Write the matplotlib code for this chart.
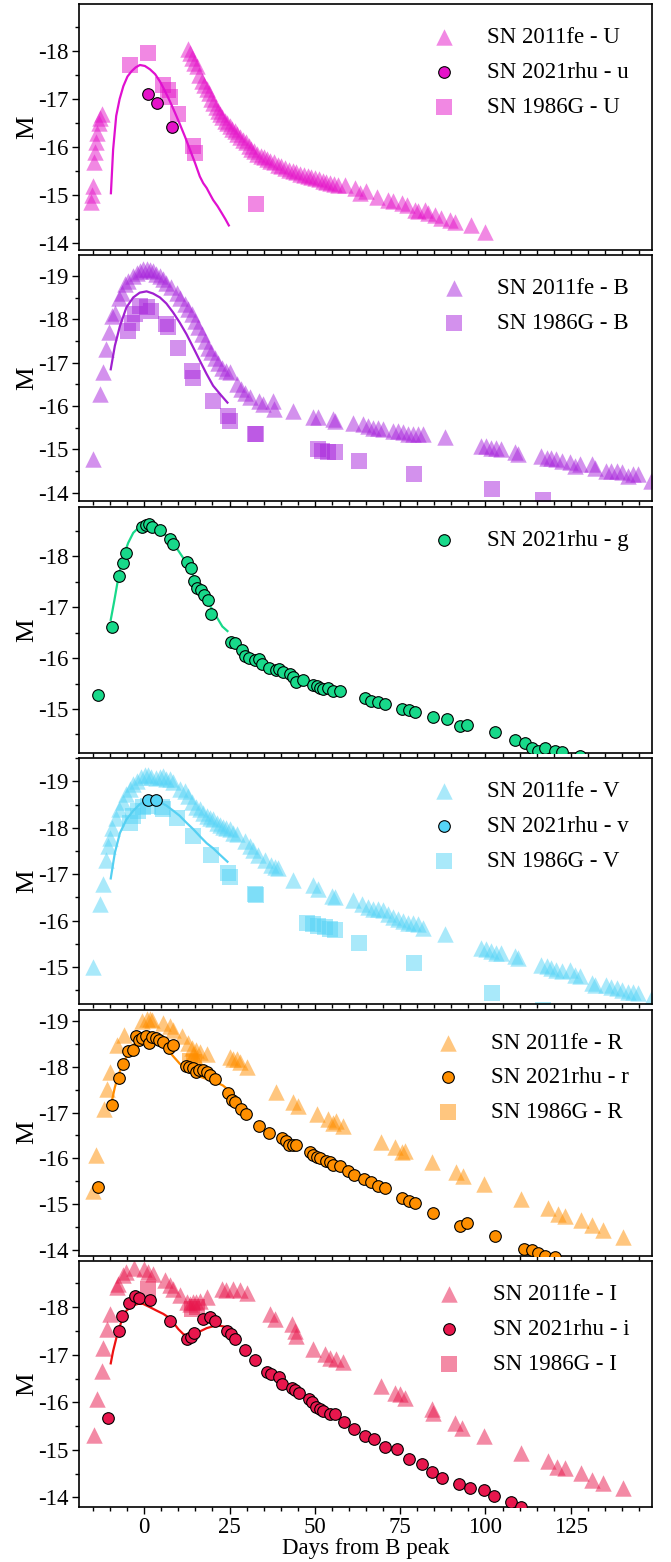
import matplotlib
matplotlib.use("Agg")
import matplotlib.pyplot as plt
from matplotlib.ticker import MultipleLocator

plt.rcParams["font.family"] = ["Liberation Serif", "DejaVu Serif"]
plt.rcParams["axes.unicode_minus"] = False
plt.rcParams["font.size"] = 16.5

# ---------------- U band ----------------
u_fe_days = [-15.5, -15.2, -14.9, -14.6, -14.3, -14.0, -13.7, -13.3, -12.9, -12.5,
             12.8, 13.3, 13.9, 14.6, 15.4, 16.2, 16.9, 17.6, 18.3, 18.9, 19.6, 20.3,
             21.0, 21.6, 22.2, 22.9, 23.6, 24.3, 25.0, 25.8, 26.5, 27.3, 28.1, 28.9,
             29.7, 30.6, 31.4, 32.3, 33.2, 34.1, 35.0, 36.0, 37.0, 38.0, 39.1, 40.2,
             41.3, 42.4, 43.5, 44.6, 45.7, 46.8, 47.9, 49.0, 50.1, 51.2, 52.3, 53.4,
             54.5, 55.6, 56.7, 58.8, 61.7, 63.2, 65.1, 68.1, 71.5, 72.9, 75.4, 76.9,
             79.3, 80.3, 82.2, 83.2, 85.2, 87.1, 89.6, 91.0, 95.9, 99.8]
u_fe_mag = [-14.85, -15.0, -15.2, -15.7, -15.9, -16.1, -16.3, -16.5, -16.6, -16.7,
            -18.04, -17.95, -17.86, -17.75, -17.68, -17.5, -17.38, -17.3, -17.22, -17.12,
            -17.0, -16.92, -16.83, -16.76, -16.7, -16.63, -16.55, -16.5, -16.44, -16.38,
            -16.33, -16.27, -16.22, -16.15, -16.1, -16.02, -15.97, -15.92, -15.86, -15.82,
            -15.79, -15.75, -15.72, -15.68, -15.63, -15.6, -15.57, -15.53, -15.5, -15.48,
            -15.45, -15.42, -15.4, -15.37, -15.35, -15.33, -15.3, -15.28, -15.25, -15.23,
            -15.22, -15.22, -15.15, -15.05, -15.08, -14.97, -14.9, -14.87, -14.83, -14.8,
            -14.69, -14.66, -14.69, -14.62, -14.59, -14.52, -14.49, -14.45, -14.38, -14.24]
u_rhu_days = [1.0, 3.8, 8.1]
u_rhu_mag = [-17.11, -16.91, -16.41]
u_86_days = [-4.2, 1.0, 5.6, 7.0, 7.6, 10.0, 14.2, 14.8, 32.9]
u_86_mag = [-17.72, -17.97, -17.3, -17.18, -17.05, -16.68, -16.02, -15.87, -14.82]
u_fit_days = [-9.75, -9.1, -8.2, -7.2, -6.1, -4.9, -3.7, -2.5, -1.25, 0.2, 1.7, 3.2,
              4.6, 6.0, 7.5, 9.0, 10.5, 12.0, 13.4, 14.9, 16.3, 17.3, 18.3, 19.2,
              20.2, 21.5, 22.7, 23.8, 24.8]
u_fit_mag = [-15.04, -15.95, -16.65, -17.0, -17.27, -17.47, -17.58, -17.66, -17.71, -17.69,
             -17.62, -17.52, -17.37, -17.18, -16.96, -16.72, -16.47, -16.21, -15.95, -15.67,
             -15.39, -15.25, -15.15, -15.03, -14.9, -14.77, -14.63, -14.5, -14.37]

# ---------------- B band ----------------
b_fe_days = [-14.9, -13.0, -12.0, -11.2, -10.3, -9.3, -8.6, -7.3, -6.6, -5.7, -4.7, -3.2,
             -2.2, -1.3, -0.3, 0.7, 1.7, 2.6, 3.6, 4.6, 5.6, 6.5, 8.0, 9.5, 10.4, 11.9,
             12.9, 13.9, 14.8, 15.8, 16.8, 17.8, 18.8, 19.7, 20.7, 21.7, 22.7, 24.1, 25.1,
             27.1, 28.5, 29.5, 31.0, 33.5, 34.9, 37.8, 37.9, 43.7, 49.5, 51.0, 55.4,
             55.9, 61.2, 64.2, 65.6, 67.1, 68.5, 70.0, 72.9, 74.4, 75.9, 77.3, 78.8,
             80.3, 81.7, 88.1, 98.8, 100.3, 101.7, 103.2, 104.7, 108.6, 109.5, 116.4,
             117.9, 119.3, 120.8, 122.3, 124.7, 126.2, 127.6, 131.1, 132.0, 135.4, 136.9,
             138.4, 139.9, 141.8, 143.3, 144.7, 148.6]
b_fe_mag = [-14.78, -16.28, -16.78, -17.32, -17.7, -18.08, -18.16, -18.5, -18.62, -18.82,
            -18.89, -19.0, -19.08, -19.12, -19.16, -19.16, -19.14, -19.12, -19.06, -19.0,
            -18.93, -18.85, -18.74, -18.62, -18.5, -18.35, -18.24, -18.12, -17.97, -17.82,
            -17.66, -17.51, -17.35, -17.24, -17.12, -17.0, -16.89, -16.82, -16.78, -16.51,
            -16.39, -16.31, -16.2, -16.12, -16.05, -16.12, -15.93, -15.89, -15.74, -15.74,
            -15.7, -15.66, -15.62, -15.58, -15.54, -15.5, -15.5, -15.47, -15.43, -15.43,
            -15.39, -15.35, -15.35, -15.35, -15.35, -15.28, -15.08, -15.08, -15.04, -15.04,
            -15.0, -14.93, -14.89, -14.85, -14.81, -14.81, -14.78, -14.74, -14.7, -14.62,
            -14.66, -14.66, -14.58, -14.51, -14.51, -14.51, -14.47, -14.39, -14.43, -14.43,
            -14.28]
b_86_days = [-4.7, -3.7, -2.7, -1.3, 0.7, 2.1, 6.5, 7.0, 10.0, 13.9, 14.4, 20.2, 24.6,
             25.1, 32.4, 32.9, 51.0, 52.0, 53.9, 55.9, 62.9, 79.0, 102.0, 116.9]
b_86_mag = [-17.74, -17.93, -18.12, -18.32, -18.28, -18.2, -17.89, -17.82, -17.35, -16.82,
            -16.66, -16.12, -15.78, -15.66, -15.35, -15.35, -15.0, -14.97, -14.93, -14.93,
            -14.74, -14.43, -14.08, -13.82]
b_fit_days = [-9.8, -8.6, -7.1, -5.2, -3.2, -1.3, 0.7, 2.6, 4.6, 6.5, 8.5, 10.4, 12.4,
              14.4, 16.3, 18.3, 20.2, 22.2, 24.4]
b_fit_mag = [-16.85, -17.39, -17.85, -18.28, -18.51, -18.62, -18.65, -18.6, -18.51,
             -18.37, -18.16, -17.93, -17.66, -17.35, -17.05, -16.74, -16.47, -16.28, -16.08]

# ---------------- g band ----------------
g_rhu_days = [-13.4, -9.4, -7.3, -6.3, -5.4, -0.5, 0.4, 1.4, 2.4, 4.7, 7.5, 8.5, 12.6,
              13.6, 14.6, 15.5, 16.6, 17.5, 18.6, 19.5, 25.5, 26.7, 28.6, 29.5, 30.6,
              32.6, 33.6, 34.6, 36.6, 38.6, 39.6, 40.6, 42.7, 43.7, 44.6, 46.6, 49.5,
              50.5, 51.5, 52.4, 53.9, 55.4, 57.3, 64.7, 66.6, 68.5, 70.5, 75.4, 77.5,
              79.5, 84.5, 88.6, 92.5, 94.6, 102.7, 108.6, 111.5, 113.5, 115.4, 117.4,
              120.3, 122.5, 127.6]
g_rhu_mag = [-15.28, -16.61, -17.62, -17.86, -18.07, -18.57, -18.61, -18.63, -18.58,
             -18.51, -18.34, -18.24, -17.88, -17.77, -17.51, -17.37, -17.34, -17.24,
             -17.14, -16.87, -16.32, -16.29, -16.15, -16.05, -16.0, -15.96, -15.98,
             -15.89, -15.81, -15.76, -15.79, -15.73, -15.69, -15.63, -15.53, -15.56,
             -15.48, -15.45, -15.41, -15.4, -15.41, -15.36, -15.35, -15.21, -15.16,
             -15.13, -15.1, -15.0, -14.97, -14.95, -14.85, -14.8, -14.67, -14.69, -14.55,
             -14.39, -14.34, -14.24, -14.18, -14.24, -14.18, -14.16, -14.08]
g_fit_days = [-9.8, -8.8, -7.6, -6.2, -4.7, -3.2, -1.8, -0.3, 1.7, 3.6, 5.6, 7.5, 9.5,
              11.4, 13.4, 15.3, 17.3, 19.2, 21.2, 22.9, 24.4]
g_fit_mag = [-16.75, -17.11, -17.57, -17.97, -18.26, -18.46, -18.55, -18.59, -18.59,
             -18.55, -18.46, -18.33, -18.16, -17.97, -17.74, -17.51, -17.27, -17.04,
             -16.81, -16.62, -16.53]

# ---------------- V band ----------------
v_fe_days = [-14.9, -13.0, -12.2, -11.2, -10.5, -10.1, -9.3, -8.3, -7.3, -6.3, -5.4, -4.2,
             -3.2, -2.2, -0.8, 0.2, 1.2, 2.1, 3.6, 4.6, 5.6, 6.5, 7.5, 8.5, 10.4, 11.9,
             12.9, 13.9, 15.3, 16.3, 17.3, 18.3, 19.2, 20.2, 21.2, 22.2, 23.1, 24.1, 25.1,
             26.1, 27.1, 29.5, 31.0, 31.9, 33.4, 35.3, 37.3, 38.3, 39.3, 43.7, 49.5, 51.0,
             54.9, 55.9, 61.2, 63.7, 65.6, 67.1, 68.5, 70.0, 71.5, 72.9, 74.4, 75.9, 77.3,
             78.8, 80.3, 81.7, 88.1, 98.8, 100.3, 101.7, 103.2, 104.7, 108.6, 109.5,
             116.4, 117.9, 119.3, 120.8, 122.3, 124.7, 126.2, 127.6, 131.1, 132.0, 135.4,
             136.9, 138.4, 139.9, 141.8, 143.3, 144.7, 148.6]
v_fe_mag = [-15.01, -16.36, -16.8, -17.31, -17.6, -17.78, -18.0, -18.22, -18.4, -18.55,
            -18.73, -18.84, -18.95, -19.02, -19.09, -19.13, -19.13, -19.09, -19.07, -19.09,
            -19.12, -19.06, -19.06, -18.99, -18.84, -18.8, -18.69, -18.55, -18.44, -18.4,
            -18.33, -18.26, -18.22, -18.18, -18.11, -18.07, -18.02, -18.0, -17.97, -17.89,
            -17.86, -17.71, -17.6, -17.53, -17.42, -17.31, -17.2, -17.16, -17.13, -16.87,
            -16.76, -16.69, -16.54, -16.51, -16.44, -16.36, -16.29, -16.25, -16.25, -16.22,
            -16.14, -16.07, -16.03, -16.0, -15.96, -15.96, -15.93, -15.85, -15.71, -15.42,
            -15.38, -15.35, -15.31, -15.31, -15.23, -15.2, -15.05, -15.02, -14.98, -14.94,
            -14.91, -14.94, -14.83, -14.8, -14.65, -14.62, -14.61, -14.58, -14.54, -14.51,
            -14.47, -14.47, -14.43, -14.32]
v_rhu_days = [1.0, 3.6]
v_rhu_mag = [-18.61, -18.61]
v_86_days = [-4.2, -3.2, -1.8, -0.3, 1.2, 5.1, 5.6, 9.5, 14.4, 19.7, 24.6, 25.1, 32.4,
             32.9, 47.6, 49.5, 51.0, 52.9, 54.4, 55.9, 62.9, 79.0, 102.0, 116.9]
v_86_mag = [-18.11, -18.26, -18.37, -18.44, -18.48, -18.44, -18.4, -18.22, -17.82, -17.42,
            -17.02, -16.95, -16.58, -16.55, -15.96, -15.93, -15.89, -15.86, -15.82, -15.8,
            -15.52, -15.09, -14.43, -14.07]
v_fit_days = [-9.8, -8.6, -7.1, -5.2, -3.2, -1.3, 0.7, 2.6, 4.6, 6.5, 8.5, 10.4, 12.4,
              14.4, 16.3, 18.3, 20.2, 22.2, 24.4]
v_fit_mag = [-16.91, -17.46, -17.89, -18.18, -18.37, -18.51, -18.58, -18.6, -18.56,
             -18.48, -18.37, -18.26, -18.11, -17.97, -17.82, -17.67, -17.56, -17.42, -17.27]

# ---------------- R band ----------------
r_fe_days = [-14.9, -14.0, -11.8, -11.0, -10.1, -8.1, -6.0, -0.5, 0.7, 1.7, 2.4, 5.6,
             7.5, 8.5, 11.0, 12.9, 13.9, 14.4, 14.8, 15.3, 16.3, 18.3, 25.1, 26.1, 27.1,
             28.0, 30.0, 38.6, 43.7, 45.1, 50.5, 53.9, 55.4, 56.3, 58.3, 69.5, 73.4, 75.4,
             76.4, 84.4, 91.5, 93.5, 99.5, 110.4, 118.4, 121.3, 123.3, 128.1, 131.3,
             134.3, 140.4]
r_fe_mag = [-15.29, -16.07, -17.07, -17.51, -17.89, -18.48, -18.7, -19.0, -19.04, -19.04,
            -19.02, -18.95, -18.89, -18.81, -18.67, -18.52, -18.41, -18.29, -18.22, -18.36,
            -18.33, -18.29, -18.22, -18.17, -18.16, -18.11, -18.0, -17.44, -17.22, -17.14,
            -16.96, -16.85, -16.77, -16.81, -16.7, -16.36, -16.25, -16.14, -16.16, -15.92,
            -15.69, -15.62, -15.43, -15.11, -14.91, -14.79, -14.74, -14.65, -14.54, -14.43,
            -14.28]
r_rhu_days = [-13.4, -9.4, -7.3, -6.3, -4.7, -3.4, -2.5, -1.5, -0.5, 0.4, 1.4, 2.4, 3.4,
              4.4, 5.6, 7.3, 8.5, 12.2, 13.2, 14.2, 15.1, 16.1, 17.1, 18.3, 19.2, 20.7,
              24.6, 25.6, 26.7, 28.5, 29.7, 33.6, 36.6, 40.5, 41.5, 42.5, 43.5, 44.4,
              48.5, 49.5, 50.5, 51.5, 53.4, 54.4, 55.4, 57.3, 59.6, 61.5, 64.5, 66.6,
              68.5, 70.5, 75.6, 77.5, 79.5, 84.5, 92.5, 94.6, 102.7, 111.3, 113.5, 115.4,
              117.4, 120.3]
r_rhu_mag = [-15.36, -17.16, -17.76, -18.06, -18.35, -18.37, -18.67, -18.58, -18.63,
             -18.67, -18.52, -18.65, -18.63, -18.59, -18.55, -18.42, -18.48, -18.02, -18.0,
             -17.97, -17.89, -17.92, -17.92, -17.89, -17.81, -17.74, -17.42, -17.27, -17.24,
             -17.07, -16.97, -16.7, -16.55, -16.45, -16.38, -16.29, -16.3, -16.3, -16.14,
             -16.07, -16.03, -16.01, -15.95, -15.92, -15.86, -15.82, -15.73, -15.63, -15.55,
             -15.49, -15.4, -15.34, -15.14, -15.06, -15.01, -14.8, -14.51, -14.58, -14.3,
             -14.02, -13.99, -13.93, -13.87, -13.84]
r_86_days = [13.5, 14.6]
r_86_mag = [-18.13, -18.1]
r_fit_days = [-9.8, -8.6, -7.6, -6.2, -4.7, -3.2, -1.3, 0.7, 2.6, 4.6, 6.5, 8.5, 10.4,
              11.9, 13.4, 15.3, 17.3, 19.2, 21.2, 23.1, 24.4]
r_fit_mag = [-17.14, -17.55, -17.81, -18.07, -18.29, -18.48, -18.59, -18.63, -18.61,
             -18.53, -18.41, -18.23, -18.07, -17.96, -17.89, -17.81, -17.76, -17.71,
             -17.66, -17.59, -17.51]

# ---------------- I band ----------------
i_fe_days = [-14.7, -13.8, -12.5, -12.0, -10.8, -10.1, -8.1, -7.6, -6.2, -5.2, -2.9, 0.0,
             1.2, 2.6, 6.1, 7.5, 8.5, 10.4, 12.4, 13.4, 14.4, 15.3, 16.3, 18.3, 22.7, 24.1,
             26.1, 28.0, 30.0, 36.8, 38.3, 43.2, 44.1, 44.6, 49.5, 52.9, 54.4, 56.3, 58.3,
             69.3, 73.4, 74.9, 76.4, 84.2, 84.7, 91.2, 93.2, 99.5, 110.4, 118.4, 121.1,
             123.2, 128.1, 131.3, 134.3, 140.4]
i_fe_mag = [-15.32, -16.08, -16.66, -17.15, -17.54, -17.86, -18.42, -18.49, -18.67, -18.74,
            -18.83, -18.81, -18.74, -18.7, -18.58, -18.46, -18.39, -18.25, -18.11, -18.07,
            -18.11, -18.11, -18.14, -18.21, -18.39, -18.36, -18.39, -18.37, -18.3, -17.86,
            -17.75, -17.65, -17.51, -17.4, -17.12, -17.01, -16.94, -16.91, -16.84, -16.35,
            -16.2, -16.17, -16.1, -15.85, -15.78, -15.57, -15.46, -15.29, -14.94, -14.76,
            -14.64, -14.62, -14.51, -14.37, -14.3, -14.2]
i_rhu_days = [-10.5, -7.4, -6.4, -4.4, -2.7, -1.5, 1.7, 7.5, 12.4, 13.6, 14.6, 17.3, 19.4,
              20.7, 24.4, 25.4, 26.6, 29.5, 32.6, 36.1, 37.3, 39.6, 40.5, 43.4, 44.3, 45.3,
              48.3, 49.3, 50.3, 51.5, 52.4, 54.4, 55.9, 58.6, 61.5, 64.6, 67.4, 70.5, 74.2,
              77.5, 81.5, 84.4, 87.3, 92.3, 95.4, 99.5, 102.5, 107.6, 110.5]
i_rhu_mag = [-15.68, -17.51, -17.82, -18.08, -18.23, -18.2, -18.15, -17.7, -17.33, -17.37,
             -17.45, -17.75, -17.79, -17.72, -17.51, -17.44, -17.33, -17.11, -16.89, -16.63,
             -16.59, -16.54, -16.38, -16.31, -16.27, -16.2, -16.08, -16.01, -15.9, -15.87,
             -15.82, -15.76, -15.76, -15.59, -15.43, -15.29, -15.22, -15.06, -15.01, -14.8,
             -14.7, -14.54, -14.41, -14.28, -14.2, -14.16, -14.04, -13.9, -13.81]
i_86_days = [1.2, 13.9, 15.5]
i_86_mag = [-18.39, -17.97, -18.0]
i_fit_days = [-9.8, -9.1, -8.1, -6.6, -5.2, -3.2, -1.8, -0.3, 1.7, 3.6, 5.6, 7.5, 8.5,
              10.0, 11.4, 12.9, 14.4, 16.3, 18.3, 20.2, 22.2, 24.4]
i_fit_mag = [-16.82, -17.08, -17.37, -17.72, -17.93, -18.04, -18.07, -18.07, -18.0,
             -17.93, -17.86, -17.77, -17.68, -17.54, -17.44, -17.38, -17.4, -17.49, -17.56,
             -17.6, -17.61, -17.58]

bands = [
    dict(name="U", rhu="u", color="#E512C9", line="#E010D0",
         fe=(u_fe_days, u_fe_mag), rhu_pts=(u_rhu_days, u_rhu_mag),
         sn86=(u_86_days, u_86_mag), fit=(u_fit_days, u_fit_mag),
         ylim=(-13.86, -18.98)),
    dict(name="B", rhu=None, color="#A825DC", line="#A020D0",
         fe=(b_fe_days, b_fe_mag), rhu_pts=None,
         sn86=(b_86_days, b_86_mag), fit=(b_fit_days, b_fit_mag),
         ylim=(-13.8, -19.48)),
    dict(name=None, rhu="g", color="#18D98A", line="#18D98A",
         fe=None, rhu_pts=(g_rhu_days, g_rhu_mag),
         sn86=None, fit=(g_fit_days, g_fit_mag),
         ylim=(-14.14, -18.97)),
    dict(name="V", rhu="v", color="#55D4F7", line="#55D0F2",
         fe=(v_fe_days, v_fe_mag), rhu_pts=(v_rhu_days, v_rhu_mag),
         sn86=(v_86_days, v_86_mag), fit=(v_fit_days, v_fit_mag),
         ylim=(-14.2, -19.5)),
    dict(name="R", rhu="r", color="#FF8F00", line="#FF8C00",
         fe=(r_fe_days, r_fe_mag), rhu_pts=(r_rhu_days, r_rhu_mag),
         sn86=(r_86_days, r_86_mag), fit=(r_fit_days, r_fit_mag),
         ylim=(-13.87, -19.25)),
    dict(name="I", rhu="i", color="#E8174D", line="#EE1111",
         fe=(i_fe_days, i_fe_mag), rhu_pts=(i_rhu_days, i_rhu_mag),
         sn86=(i_86_days, i_86_mag), fit=(i_fit_days, i_fit_mag),
         ylim=(-13.8, -18.97)),
]

fig = plt.figure(figsize=(6.71, 15.62), dpi=100)
gs = fig.add_gridspec(6, 1, left=79 / 671, right=652 / 671,
                      top=1 - 4 / 1562, bottom=1 - 1507 / 1562, hspace=0.0224)

axes = []
for k, bd in enumerate(bands):
    ax = fig.add_subplot(gs[k, 0], sharex=axes[0] if axes else None)
    axes.append(ax)
    c = bd["color"]
    handles = []
    if bd["fe"] is not None:
        h = ax.scatter(bd["fe"][0], bd["fe"][1], marker="^", s=140, color=c,
                       alpha=0.5, linewidths=0, zorder=2,
                       label=f"SN 2011fe - {bd['name']}")
        handles.append(h)
    if bd["sn86"] is not None:
        h86 = ax.scatter(bd["sn86"][0], bd["sn86"][1], marker="s", s=120, color=c,
                         alpha=0.5, linewidths=0, zorder=1.8,
                         label=f"SN 1986G - {bd['name']}")
    else:
        h86 = None
    ax.plot(bd["fit"][0], bd["fit"][1], color=bd["line"], lw=1.6, zorder=2.5)
    if bd["rhu_pts"] is not None:
        hr = ax.scatter(bd["rhu_pts"][0], bd["rhu_pts"][1], marker="o", s=70,
                        facecolor=c, edgecolor="black", linewidths=0.8, zorder=3,
                        label=f"SN 2021rhu - {bd['rhu']}")
        handles.append(hr)
    if h86 is not None:
        handles.append(h86)
    ax.legend(handles=handles, loc="upper right", frameon=False,
              fontsize=16.5, handletextpad=0.9, labelspacing=0.6,
              borderaxespad=0.6)

    ax.set_ylim(*bd["ylim"])
    ax.set_xlim(-19.1, 148.8)
    ax.yaxis.set_major_locator(MultipleLocator(1))
    ax.yaxis.set_minor_locator(MultipleLocator(0.5))
    ax.xaxis.set_major_locator(MultipleLocator(25))
    ax.xaxis.set_minor_locator(MultipleLocator(5))
    ax.set_ylabel("M", fontsize=19, labelpad=0)
    ax.tick_params(which="major", length=5, width=1, labelsize=16.5, pad=2.5)
    ax.tick_params(which="minor", length=3, width=1)
    for sp in ax.spines.values():
        sp.set_linewidth(1.2)
    if k < len(bands) - 1:
        ax.tick_params(labelbottom=False)

axes[-1].set_xlabel("Days from B peak", fontsize=16.5, labelpad=0)

fig.savefig("out.png", dpi=100)
